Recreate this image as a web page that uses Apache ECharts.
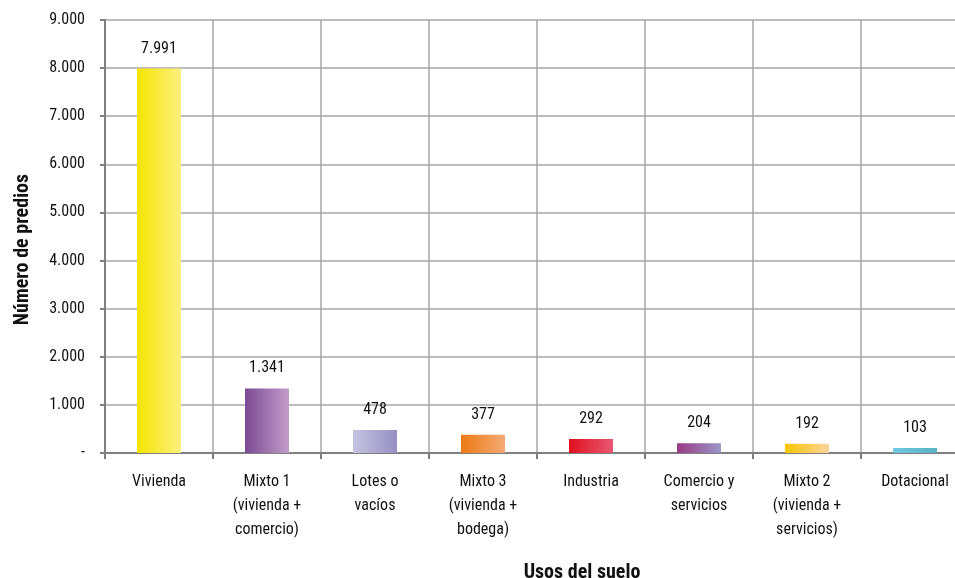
<!DOCTYPE html>
<html>
<head>
<meta charset="utf-8">
<script src="https://cdn.jsdelivr.net/npm/echarts@6/dist/echarts.min.js"></script>
<style>
  html, body { margin: 0; padding: 0; background: #fff; }
  #chart { width: 955px; height: 578px; }
</style>
</head>
<body>
<div id="chart"></div>
<script>
// Land-use categories and number of lots per category
const categories = [
  'Vivienda',
  'Mixto 1\n(vivienda +\ncomercio)',
  'Lotes o\nvacíos',
  'Mixto 3\n(vivienda +\nbodega)',
  'Industria',
  'Comercio y\nservicios',
  'Mixto 2\n(vivienda +\nservicios)',
  'Dotacional'
];
const predios = [7991, 1341, 478, 377, 292, 204, 192, 103];

// Left/right gradient stops for each bar
const colorsFrom = ['#f5e400', '#7a4a94', '#c6c3e0', '#ee7a14', '#e0101e', '#983a84', '#fcc500', '#72c6e0'];
const colorsTo   = ['#fbf07e', '#c29cc8', '#968fc2', '#f4aa74', '#e95873', '#9b97c9', '#fbd49e', '#5ab3c3'];

const yMax = 9000;
const yStep = 1000;

const FONT = '"Roboto Condensed", "Liberation Sans Narrow", "DejaVu Sans Condensed", sans-serif';

function fmt(v) {
  return String(v).replace(/\B(?=(\d{3})+(?!\d))/g, '.');
}

const chart = echarts.init(document.getElementById('chart'));
chart.setOption({
  animation: false,
  backgroundColor: '#ffffff',
  grid: { left: 105, top: 20, right: -14, bottom: 125, containLabel: false, outerBoundsMode: 'none' },
  xAxis: {
    type: 'category',
    data: categories,
    name: 'Usos del suelo',
    nameLocation: 'middle',
    nameGap: 110,
    nameTextStyle: { fontFamily: FONT, fontSize: 20, fontWeight: 'bold', color: '#111', padding: [0, 0, 0, 90] },
    axisLine: { lineStyle: { color: '#7f7f7f', width: 2 } },
    axisTick: { show: true, alignWithLabel: false, length: 6, lineStyle: { color: '#7f7f7f', width: 2 } },
    splitLine: { show: true, interval: 0, lineStyle: { color: '#a6a6a6', width: 1.5 } },
    axisLabel: {
      interval: 0,
      margin: 17,
      lineHeight: 24,
      fontFamily: FONT,
      fontSize: 16,
      color: '#111'
    }
  },
  yAxis: {
    type: 'value',
    min: 0,
    max: yMax,
    interval: yStep,
    name: 'Número de predios',
    nameLocation: 'middle',
    nameGap: 72,
    nameRotate: 90,
    nameTextStyle: { fontFamily: FONT, fontSize: 20, fontWeight: 'bold', color: '#111', padding: [0, 26, 0, 0] },
    axisLine: { show: true, lineStyle: { color: '#7f7f7f', width: 2 } },
    axisTick: { show: true, length: 5, lineStyle: { color: '#7f7f7f', width: 2 } },
    splitLine: { show: true, lineStyle: { color: '#a6a6a6', width: 1.5 } },
    axisLabel: {
      margin: 20,
      fontFamily: FONT,
      fontSize: 16,
      color: '#111',
      formatter: v => (v === 0 ? '-' : fmt(v))
    }
  },
  series: [{
    type: 'bar',
    barWidth: 44,
    data: predios.map((v, i) => ({
      value: v,
      itemStyle: {
        color: new echarts.graphic.LinearGradient(0, 0, 1, 0, [
          { offset: 0, color: colorsFrom[i] },
          { offset: 1, color: colorsTo[i] }
        ])
      }
    })),
    label: {
      show: true,
      position: 'top',
      distance: 12,
      fontFamily: FONT,
      fontSize: 16,
      color: '#111',
      formatter: p => fmt(p.value)
    }
  }]
});
</script>
</body>
</html>
